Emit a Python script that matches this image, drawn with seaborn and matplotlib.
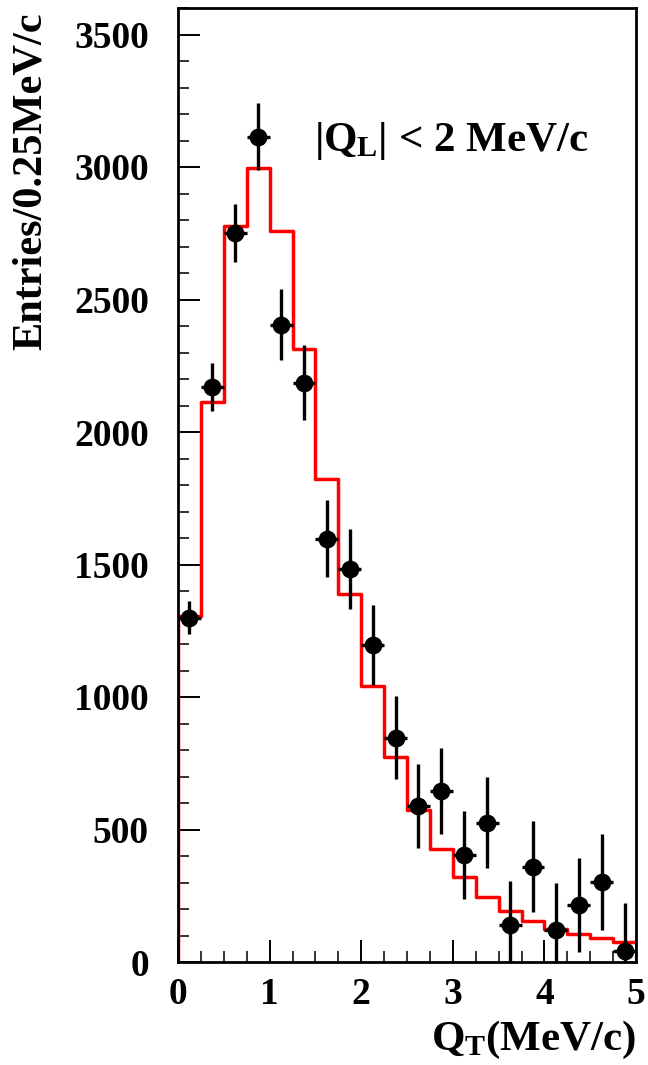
import numpy as np
import pandas as pd
import matplotlib
matplotlib.use("Agg")
import matplotlib.pyplot as plt
from matplotlib.ticker import MultipleLocator
import seaborn as sns

# Q_T bins (0.25 MeV/c wide)
bin_edges = [0.0, 0.25, 0.5, 0.75, 1.0, 1.25, 1.5, 1.75, 2.0, 2.25, 2.5,
             2.75, 3.0, 3.25, 3.5, 3.75, 4.0, 4.25, 4.5, 4.75, 5.0]
bin_centers = [0.125, 0.375, 0.625, 0.875, 1.125, 1.375, 1.625, 1.875, 2.125, 2.375,
               2.625, 2.875, 3.125, 3.375, 3.625, 3.875, 4.125, 4.375, 4.625, 4.875]

# measured entries and their uncertainties
data_counts = [1300, 2170, 2752, 3114, 2405, 2186, 1597, 1484, 1197, 846,
               589, 645, 404, 525, 140, 359, 121, 215, 302, 42]
data_errors = [64, 89, 110, 126, 134, 142, 145, 151, 151, 157,
               160, 163, 166, 172, 166, 172, 178, 176, 180, 181]

# simulated distribution
mc_counts = [1305, 2114, 2778, 2996, 2758, 2314, 1823, 1389, 1042, 774,
             574, 427, 321, 245, 193, 155, 125, 106, 91, 76]

y_ticks = [0, 500, 1000, 1500, 2000, 2500, 3000, 3500]
x_ticks = [0, 1, 2, 3, 4, 5]

sns.set_theme(style="white")
plt.rcParams["font.family"] = ["Liberation Serif", "DejaVu Serif"]
plt.rcParams["font.weight"] = "bold"
plt.rcParams["mathtext.fontset"] = "custom"
plt.rcParams["mathtext.rm"] = "Liberation Serif:bold"
plt.rcParams["mathtext.it"] = "Liberation Serif:bold"
plt.rcParams["mathtext.bf"] = "Liberation Serif:bold"

fig = plt.figure(figsize=(6.48, 10.65), dpi=100)
ax = fig.add_axes([178 / 648, 1 - 962 / 1065, (636 - 178) / 648, (962 - 8) / 1065])

# red step histogram, rising from zero at the first edge
step_x = np.concatenate([[bin_edges[0]], bin_edges])
step_y = np.concatenate([[0], mc_counts, [mc_counts[-1]]])
step_df = pd.DataFrame({"x": step_x, "y": step_y})
sns.lineplot(data=step_df, x="x", y="y", ax=ax, color="red", lw=2.5,
             drawstyle="steps-post", estimator=None, sort=False, zorder=2)

# data points with error bars
half_width = np.diff(bin_edges) / 2
ax.errorbar(bin_centers, data_counts, yerr=data_errors, xerr=half_width,
            fmt="none", ecolor="black", elinewidth=2.4, capsize=0, zorder=3)
pts = pd.DataFrame({"x": bin_centers, "y": data_counts})
sns.scatterplot(data=pts, x="x", y="y", ax=ax, color="black", s=165,
                edgecolor="black", linewidth=0, zorder=4)

ax.set_xlim(0, 5)
ax.set_ylim(0, 3600)
ax.set_xlabel("")
ax.set_ylabel("")

ax.set_xticks(x_ticks)
ax.set_xticklabels([str(t) for t in x_ticks])
ax.set_yticks(y_ticks)
ax.set_yticklabels([str(t) for t in y_ticks])
ax.xaxis.set_minor_locator(MultipleLocator(0.25))
ax.yaxis.set_minor_locator(MultipleLocator(100))

ax.tick_params(axis="both", which="major", direction="in", length=16, width=1.4,
               color="black", labelsize=27, labelcolor="black")
ax.tick_params(axis="both", which="minor", direction="in", length=8, width=1.4,
               color="#333333")
ax.tick_params(axis="x", which="major", pad=11)
ax.tick_params(axis="y", which="major", pad=21)
ax.tick_params(top=False, right=False, which="both")
ax.tick_params(bottom=True, left=True, which="both")
for lab in ax.get_xticklabels() + ax.get_yticklabels():
    lab.set_fontweight("bold")

for side in ["left", "right", "top", "bottom"]:
    ax.spines[side].set_visible(True)
    ax.spines[side].set_color("black")
    ax.spines[side].set_linewidth(2.0)

ax.text(0.298, 0.861, r"$|Q_L|$ < 2 MeV/c", transform=ax.transAxes,
        fontsize=31, fontweight="bold", color="black", ha="left", va="center")

fig.text(31 / 648, 1 - 181 / 1065, "Entries/0.25MeV/c", rotation=90,
         fontsize=30.5, fontweight="bold", ha="center", va="center", color="black")
fig.text(636 / 648, 1 - 1040 / 1065, r"$Q_T$(MeV/c)", fontsize=31,
         fontweight="bold", ha="right", va="center", color="black")

fig.savefig("out.png", dpi=100, facecolor="white")
